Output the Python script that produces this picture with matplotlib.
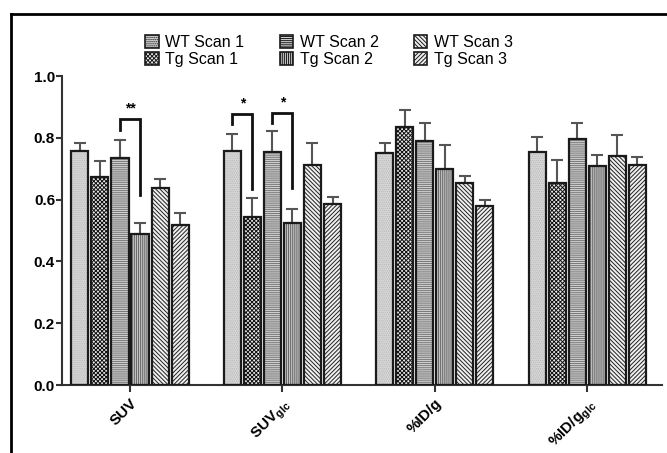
import numpy as np
import matplotlib
matplotlib.use("Agg")
import matplotlib.pyplot as plt
from matplotlib.lines import Line2D

plt.rcParams['font.family'] = ['Liberation Sans', 'DejaVu Sans']
plt.rcParams['mathtext.fontset'] = 'custom'
plt.rcParams['mathtext.rm'] = 'Liberation Sans:bold'
plt.rcParams['mathtext.bf'] = 'Liberation Sans:bold'
plt.rcParams['hatch.linewidth'] = 0.7

groups = ['SUV', r'SUV$_{\mathbf{glc}}$', '%ID/g', r'%ID/g$_{\mathbf{glc}}$']
series = ['WT Scan 1', 'Tg Scan 1', 'WT Scan 2', 'Tg Scan 2', 'WT Scan 3', 'Tg Scan 3']

# means per series (rows) for each group (cols)
means = [
    [0.757, 0.756, 0.750, 0.754],
    [0.675, 0.543, 0.834, 0.654],
    [0.734, 0.754, 0.789, 0.795],
    [0.489, 0.523, 0.699, 0.708],
    [0.638, 0.712, 0.653, 0.743],
    [0.517, 0.585, 0.580, 0.713],
]
errs = [
    [0.025, 0.056, 0.035, 0.048],
    [0.049, 0.062, 0.055, 0.074],
    [0.059, 0.068, 0.060, 0.052],
    [0.036, 0.048, 0.077, 0.037],
    [0.029, 0.072, 0.024, 0.067],
    [0.040, 0.023, 0.020, 0.026],
]

faces = ['#d8d8d8', '#e8e8e8', '#d0d0d0', '#c4c4c4', '#f0f0f0', '#f0f0f0']
hatches = ['........', 'xxxxxxxx', '--------', '||||||||', '\\\\\\\\\\\\\\\\', '////////']
hcolors = ['#b8b8b8', '#111111', '#777777', '#666666', '#222222', '#222222']

fig = plt.figure(figsize=(6.67, 4.53), dpi=100)
ax = fig.add_axes([0.093, 0.150, 0.900, 0.682])

x = np.arange(len(groups))
step = 0.1316
width = 0.112
handles = []
for i in range(len(series)):
    pos = x + (i - 2.5) * step
    ax.bar(pos, means[i], width, color=faces[i], hatch=hatches[i],
           edgecolor=hcolors[i], linewidth=0, zorder=2)
    ax.bar(pos, means[i], width, fill=False, edgecolor='#1a1a1a',
           linewidth=1.6, zorder=3)
    ax.errorbar(pos, means[i], yerr=[np.zeros(len(groups)), errs[i]],
                fmt='none', ecolor='#555555', elinewidth=1.5, capsize=4,
                capthick=1.5, zorder=1)
    handles.append(plt.Rectangle((0, 0), 1, 1, facecolor=faces[i],
                                 hatch=hatches[i], edgecolor='#1a1a1a',
                                 linewidth=1.2))

# significance brackets: (group, left bar, right bar, top, left end, right end, label)
brackets = [
    (0, 2, 3, 0.861, 0.825, 0.615, '**'),
    (1, 0, 1, 0.877, 0.845, 0.634, '*'),
    (1, 2, 3, 0.880, 0.848, 0.638, '*'),
]
for g, a, b, top, ya, yb, lab in brackets:
    xa = g + (a - 2.5) * step
    xb = g + (b - 2.5) * step
    ax.plot([xa, xa, xb, xb], [ya, top, top, yb], color='#111111', lw=2,
            solid_joinstyle='miter', zorder=4)
    ax.text((xa + xb) / 2, top + 0.012, lab, ha='center', va='bottom',
            fontsize=10, fontweight='bold')

ax.set_xlim(-0.446, 3.493)
ax.set_ylim(0, 1.0)
ax.set_yticks([0.0, 0.2, 0.4, 0.6, 0.8, 1.0])
ax.set_yticklabels(['0.0', '0.2', '0.4', '0.6', '0.8', '1.0'],
                   fontsize=11, fontweight='bold')
ax.set_xticks(x)
ax.set_xticklabels(groups, rotation=45, ha='right', rotation_mode='anchor',
                   fontsize=11, fontweight='bold')
ax.tick_params(axis='x', length=5, width=1.5, color='#333333', pad=3)
ax.tick_params(axis='y', length=4, width=1.5, color='#333333', pad=1)
for s in ['top', 'right']:
    ax.spines[s].set_visible(False)
for s in ['left', 'bottom']:
    ax.spines[s].set_linewidth(1.5)
    ax.spines[s].set_color('#333333')

fig.legend(handles, series, loc='center', ncol=3,
           bbox_to_anchor=(329 / 667, 1 - 51 / 453), frameon=False,
           fontsize=11.5, handlelength=0.85, handleheight=0.85,
           handletextpad=0.4, columnspacing=2.2, labelspacing=0.15)

# outer frame
fig.add_artist(Line2D([11 / 667, 11 / 667], [0, 1 - 14 / 453],
                      transform=fig.transFigure, color='black', lw=2))
fig.add_artist(Line2D([11 / 667, 1], [1 - 14 / 453, 1 - 14 / 453],
                      transform=fig.transFigure, color='black', lw=2))

fig.savefig('out.png', dpi=100)
